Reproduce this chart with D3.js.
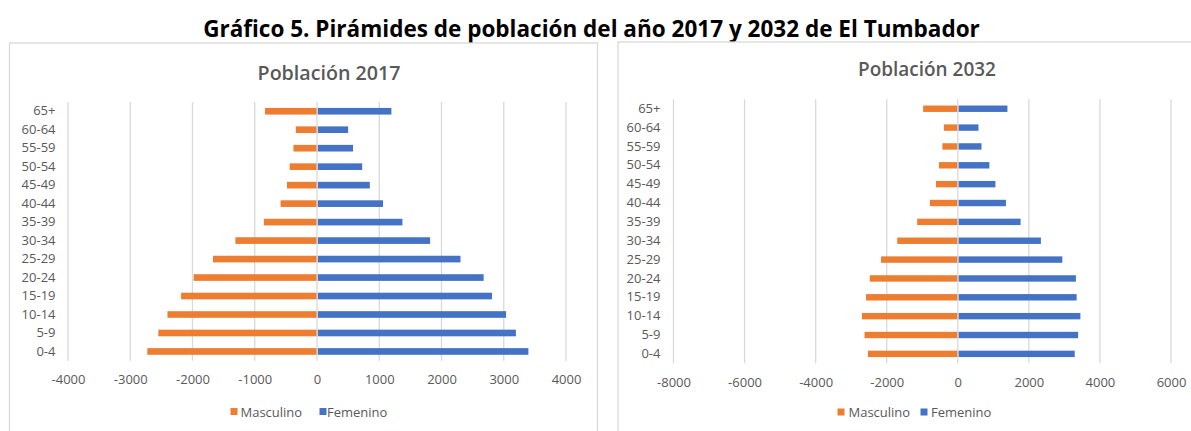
<!DOCTYPE html>
<html>
<head>
<meta charset="utf-8">
<script src="https://cdn.jsdelivr.net/npm/d3@7/dist/d3.min.js"></script>
<style>
  html, body { margin: 0; padding: 0; background: #fff; }
  svg { display: block; font-family: "Open Sans", sans-serif; }
</style>
</head>
<body>
<svg id="chart" width="1191" height="431"></svg>
<script>
// ---- Data ----
const categories = ["65+", "60-64", "55-59", "50-54", "45-49", "40-44", "35-39", "30-34", "25-29", "20-24", "15-19", "10-14", "5-9", "0-4"];
const masculino2017 = [-835, -341, -378, -439, -482, -585, -854, -1311, -1671, -1982, -2183, -2402, -2549, -2726];
const femenino2017  = [1195, 500, 579, 726, 848, 1061, 1372, 1817, 2305, 2677, 2811, 3037, 3195, 3396];
const masculino2032 = [-974, -392, -434, -529, -614, -783, -1143, -1704, -2159, -2476, -2582, -2698, -2624, -2529];
const femenino2032  = [1397, 582, 667, 889, 1058, 1354, 1767, 2339, 2942, 3323, 3344, 3450, 3386, 3291];
const ticks2017 = [-4000, -3000, -2000, -1000, 0, 1000, 2000, 3000, 4000];
const ticks2032 = [-8000, -6000, -4000, -2000, 0, 2000, 4000, 6000];
const seriesNames = ["Masculino", "Femenino"];
const mainTitle = "Gráfico 5. Pirámides de población del año 2017 y 2032 de El Tumbador";
const panelTitles = ["Población 2017", "Población 2032"];

// ---- Styles ----
const COLORS = { Masculino: "#ED7D31", Femenino: "#4472C4" };
const GRID = "#d9d9d9";
const TEXT = "#595959";

const svg = d3.select("#chart");
svg.append("rect").attr("width", 1191).attr("height", 431).attr("fill", "#fff");

// Main title
const mt = svg.append("text")
  .attr("x", 591.5).attr("y", 28)
  .attr("text-anchor", "middle").attr("dominant-baseline", "central")
  .attr("font-weight", 700).attr("font-size", 19).attr("fill", "#000")
  .text(mainTitle);
const w0 = mt.node().getComputedTextLength();
mt.attr("font-size", 19 * 777 / w0);

function drawPanel(cfg) {
  const g = svg.append("g");
  g.append("rect")
    .attr("x", cfg.panel[0]).attr("y", cfg.panel[1])
    .attr("width", cfg.panel[2]).attr("height", cfg.panel[3])
    .attr("fill", "#fff").attr("stroke", GRID).attr("stroke-width", 1.3);

  const x = d3.scaleLinear().domain(cfg.domain).range(cfg.xRange);
  const y = d3.scaleBand().domain(categories).range(cfg.yRange).paddingInner(cfg.pad).paddingOuter(cfg.pad / 2);

  // title (fit to measured width)
  const t = g.append("text")
    .attr("x", cfg.titleX).attr("y", cfg.titleY)
    .attr("text-anchor", "middle").attr("dominant-baseline", "central")
    .attr("font-size", 19).attr("font-weight", 600).attr("fill", TEXT)
    .text(cfg.title);
  const tw = t.node().getComputedTextLength();
  t.attr("font-size", 19 * cfg.titleW / tw);

  // gridlines
  g.append("g").selectAll("line").data(cfg.ticks).join("line")
    .attr("x1", d => x(d)).attr("x2", d => x(d))
    .attr("y1", cfg.yRange[0]).attr("y2", cfg.yRange[1])
    .attr("stroke", GRID).attr("stroke-width", 1.3);

  // x axis (labels only), plain hyphen minus
  const xAxis = d3.axisBottom(x).tickValues(cfg.ticks).tickSize(0).tickPadding(0).tickFormat(d => String(d));
  const xg = g.append("g").attr("transform", `translate(0,${cfg.tickY})`).call(xAxis);
  xg.select(".domain").remove();
  xg.selectAll("text").attr("font-size", 13).attr("fill", TEXT)
    .attr("font-family", "'Open Sans', sans-serif").attr("dy", "0.35em").attr("y", 0);

  // y axis labels
  const yAxis = d3.axisLeft(y).tickSize(0).tickPadding(0);
  const yg = g.append("g").attr("transform", `translate(${cfg.labelX},0)`).call(yAxis);
  yg.select(".domain").remove();
  yg.selectAll("text").attr("font-size", 13).attr("fill", TEXT)
    .attr("font-family", "'Open Sans', sans-serif");

  // bars
  g.append("g").selectAll("rect").data(categories).join("rect")
    .attr("x", (c, i) => x(cfg.male[i]))
    .attr("width", (c, i) => x(0) - x(cfg.male[i]) - 0.5)
    .attr("y", c => y(c)).attr("height", y.bandwidth())
    .attr("fill", COLORS.Masculino);
  g.append("g").selectAll("rect").data(categories).join("rect")
    .attr("x", x(0) + 0.8)
    .attr("width", (c, i) => x(cfg.female[i]) - x(0) - 0.8)
    .attr("y", c => y(c)).attr("height", y.bandwidth())
    .attr("fill", COLORS.Femenino);

  // legend
  const lg = g.append("g");
  seriesNames.forEach((s, i) => {
    lg.append("rect").attr("x", cfg.legend[i][0]).attr("y", cfg.legendY - 3.5)
      .attr("width", 7).attr("height", 7).attr("fill", COLORS[s]);
    lg.append("text").attr("x", cfg.legend[i][1]).attr("y", cfg.legendY)
      .attr("dominant-baseline", "central").attr("font-size", 13).attr("fill", TEXT)
      .text(s);
  });
}

drawPanel({
  panel: [9.5, 43, 588, 420],
  domain: [ticks2017[0], ticks2017[ticks2017.length - 1]],
  xRange: [68, 566],
  yRange: [102, 360.7],
  pad: 0.64,
  ticks: ticks2017,
  title: panelTitles[0], titleX: 329, titleY: 72, titleW: 143,
  tickY: 379.5, labelX: 55.5,
  male: masculino2017, female: femenino2017,
  legend: [[230.5, 240.5], [319.5, 327]], legendY: 411.5
});

drawPanel({
  panel: [618, 42, 600, 420],
  domain: [ticks2032[0], ticks2032[ticks2032.length - 1]],
  xRange: [673.5, 1171],
  yRange: [99.3, 363.3],
  pad: 0.66,
  ticks: ticks2032,
  title: panelTitles[1], titleX: 927, titleY: 69, titleW: 138,
  tickY: 382.5, labelX: 660.5,
  male: masculino2032, female: femenino2032,
  legend: [[837.5, 848.5], [920.5, 931]], legendY: 412
});
</script>
</body>
</html>
